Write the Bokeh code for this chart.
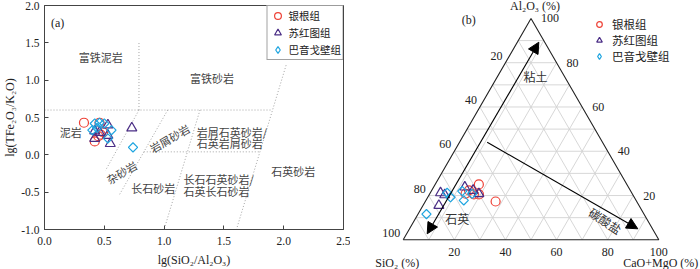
import math
from bokeh.plotting import figure
from bokeh.models import (Range1d, FixedTicker, NumeralTickFormatter, Label,
                          Arrow, NormalHead)
from bokeh.layouts import row, column
from bokeh.embed import file_html
from bokeh.resources import INLINE
from bokeh.core.properties import value

# ------------------------------------------------------------------ data
group_names = ["银根组", "苏红图组", "巴音戈壁组"]

# panel (a): lg(SiO2/Al2O3) vs lg(TFe2O3/K2O)
yingen_lsa = [0.33, 0.46, 0.42, 0.47, 0.49, 0.45]
yingen_lfk = [0.43, 0.43, 0.18, 0.27, 0.30, 0.25]
suhong_lsa = [0.42, 0.53, 0.53, 0.55, 0.73, 0.42, 0.46]
suhong_lfk = [0.32, 0.40, 0.26, 0.15, 0.36, 0.22, 0.30]
bayin_lsa = [0.40, 0.42, 0.46, 0.50, 0.56, 0.53, 0.74, 0.44]
bayin_lfk = [0.33, 0.42, 0.43, 0.42, 0.33, 0.22, 0.10, 0.36]

# classification boundaries of panel (a)
bound_x0 = [0.00, 0.79, 0.79, 1.03, 1.30, 2.02, 0.83]
bound_y0 = [0.60, 0.60, 0.60, 0.60, 0.60, 1.20, 0.04]
bound_x1 = [1.90, 0.79, 0.51, 0.628, 1.00, 1.605, 1.80]
bound_y1 = [0.60, 1.50, -0.21, -0.53, -1.00, -1.00, 0.04]

x_ticks = [0.0, 0.5, 1.0, 1.5, 2.0, 2.5]
y_ticks = [-1.0, -0.5, 0.0, 0.5, 1.0, 1.5, 2.0]

field_names = ["富铁泥岩", "富铁砂岩", "泥岩", "岩屑砂岩", "杂砂岩", "长石砂岩", "石英砂岩"]
field_names_2line = ["岩屑石英砂岩/", "石英岩屑砂岩", "长石石英砂岩/", "石英长石砂岩"]

# panel (b): ternary SiO2 - Al2O3 - (CaO+MgO), in %
yingen_sio2 = [57.9, 55.2, 63.1, 65.2, 62.1, 60.1]
yingen_al2o3 = [25.0, 17.3, 22.3, 20.8, 20.5, 20.5]
yingen_camg = [17.1, 27.5, 14.6, 14.0, 17.4, 19.4]
suhong_sio2 = [74.8, 73.6, 78.3, 64.0, 61.5, 60.0]
suhong_al2o3 = [21.2, 20.3, 15.5, 23.8, 22.3, 20.8]
suhong_camg = [4.0, 6.1, 6.2, 12.2, 16.2, 19.2]
bayin_sio2 = [85.1, 72.2, 71.9, 65.9, 67.4, 62.6]
bayin_al2o3 = [11.6, 21.2, 19.2, 22.0, 17.8, 20.8]
bayin_camg = [3.3, 6.6, 8.9, 12.1, 14.8, 16.6]

tern_tick_values = [20, 40, 60, 80, 100]
tern_grid_values = [10, 20, 30, 40, 50, 60, 70, 80, 90]

# ------------------------------------------------------------------ styles
RED = "#ee4136"
PURPLE = "#4b2e86"
CYAN = "#1ea5e0"
CJK = "Noto Sans CJK SC"
SERIF = "Liberation Serif"
AXC = "#444444"
circle_style = dict(marker="circle", size=9, line_color=RED, fill_color=None, line_width=1.2)
tri_style = dict(marker="triangle", size=10, line_color=PURPLE, fill_color=None, line_width=1.2)
dia_style = dict(marker="square", angle=45, angle_units="deg", size=6.5, line_color=CYAN,
                 fill_color=None, line_width=1.2)
# legend-only twin of the diamond series (zero size on the plot, legend draws its own size)
dia_legend_style = dict(marker="diamond", size=0, line_color=CYAN, fill_color=None,
                        line_width=1.2)

# ================================================================== panel (a)
pa = figure(width=350, height=269, x_range=Range1d(0, 2.5), y_range=Range1d(-1, 2),
            output_backend="svg", toolbar_location=None, title=None,
            min_border_left=42, min_border_right=7, min_border_top=5, min_border_bottom=40)
pa.grid.visible = False
pa.outline_line_color = AXC
pa.outline_line_width = 1
for ax in (pa.xaxis[0], pa.yaxis[0]):
    ax.major_tick_in = 4
    ax.major_tick_out = 0
    ax.minor_tick_in = 0
    ax.minor_tick_out = 0
    ax.axis_line_color = AXC
    ax.major_tick_line_color = AXC
    ax.major_label_text_font = SERIF
    ax.major_label_text_font_size = "11.5px"
    ax.major_label_text_color = "#222222"
    ax.axis_label_text_font = SERIF
    ax.axis_label_text_font_size = "12px"
    ax.axis_label_text_font_style = "normal"
    ax.axis_label_text_color = "#222222"
    ax.formatter = NumeralTickFormatter(format="0.0")
pa.xaxis.ticker = FixedTicker(ticks=x_ticks)
pa.yaxis.ticker = FixedTicker(ticks=y_ticks)
pa.xaxis.axis_label = "lg(SiO₂/Al₂O₃)"
pa.yaxis.axis_label = "lg(TFe₂O₃/K₂O)"
pa.xaxis.major_label_standoff = 7
pa.xaxis.axis_label_standoff = 5
pa.yaxis.major_label_standoff = 5
pa.yaxis.axis_label_standoff = 1

pa.segment(x0=bound_x0, y0=bound_y0, x1=bound_x1, y1=bound_y1,
           line_color="#9a9a9a", line_width=0.9, line_dash="1 2")

field_pos = [(0.47, 1.31, 0), (1.40, 1.03, 0), (0.22, 0.30, 0), (1.045, 0.222, 30),
             (0.644, -0.232, 30), (0.91, -0.45, 0), (2.08, -0.22, 0)]
for name, (fx, fy, ang) in zip(field_names, field_pos):
    pa.add_layout(Label(x=fx, y=fy, text=name, text_align="center", text_baseline="middle",
                        angle=ang, angle_units="deg", text_font=CJK,
                        text_font_size="11px", text_color="#444444"))
two_pos = [(1.273, 0.31), (1.273, 0.155), (1.163, -0.32), (1.163, -0.48)]
for name, (fx, fy) in zip(field_names_2line, two_pos):
    pa.add_layout(Label(x=fx, y=fy, text=name, text_align="left", text_baseline="middle",
                        text_font=CJK, text_font_size="11px", text_color="#444444"))
pa.add_layout(Label(x=0.11, y=1.76, text="(a)", text_align="center", text_baseline="middle",
                    text_font=SERIF, text_font_size="12px", text_color="#222222"))

pa.scatter(yingen_lsa, yingen_lfk, legend_label=group_names[0], **circle_style)
pa.scatter(suhong_lsa, suhong_lfk, legend_label=group_names[1], **tri_style)
pa.scatter(bayin_lsa, bayin_lfk, legend_label=group_names[2], **dia_legend_style)
pa.scatter(bayin_lsa, bayin_lfk, **dia_style)

lg = pa.legend[0]
lg.location = "top_right"
lg.margin = 0
lg.padding = 1
lg.spacing = 0
lg.border_line_color = AXC
lg.border_line_width = 1
lg.label_text_font = CJK
lg.label_text_font_size = "10.5px"
lg.label_text_color = "#222222"
lg.glyph_width = 18
lg.glyph_height = 17
lg.label_height = 17
lg.label_standoff = 2

# ================================================================== panel (b)
H = math.sqrt(3) / 2


def tern(s, a, c):
    xs, ys = [], []
    for si, ai, ci in zip(s, a, c):
        t = si + ai + ci
        xs.append((ci + 0.5 * ai) / t)
        ys.append(H * ai / t)
    return xs, ys


pb = figure(width=350, height=269, x_range=Range1d(-0.2062, 1.1631),
            y_range=Range1d(-0.1162, 0.9362), x_axis_location=None, y_axis_location=None,
            min_border=0, min_border_left=0, min_border_right=0, min_border_top=0,
            min_border_bottom=0, title=None, output_backend="svg", toolbar_location=None)
pb.outline_line_color = None
pb.grid.visible = False

gx, gy = [], []
for v in tern_grid_values:
    w = 100 - v
    for (s0, a0, c0), (s1, a1, c1) in [((w, v, 0), (0, v, w)),
                                       ((w, 0, v), (0, w, v)),
                                       ((v, 0, w), (v, w, 0))]:
        lx, ly = tern([s0, s1], [a0, a1], [c0, c1])
        gx.append(lx)
        gy.append(ly)
pb.multi_line(gx, gy, line_color="#d2d2d2", line_width=0.9)

ox, oy = tern([100, 0, 0, 100], [0, 0, 100, 0], [0, 100, 0, 0])
pb.line(ox, oy, line_color="#222222", line_width=1.1)

zeros = [0] * len(tern_tick_values)
rest = [100 - v for v in tern_tick_values]
tick_txt = [str(v) for v in tern_tick_values]
tick_font = dict(text_font=value(SERIF), text_font_size="12px", text_color="#222222")
lx, ly = tern(tern_tick_values, rest, zeros)
pb.text(lx, ly, text=tick_txt, text_align="right", text_baseline="middle",
        x_offset=-3, y_offset=-7, **tick_font)
rx, ry = tern(zeros, tern_tick_values, rest)
pb.text(rx, ry, text=tick_txt, text_align="left", text_baseline="middle",
        x_offset=10, y_offset=0, **tick_font)
bx, by = tern(rest, zeros, tern_tick_values)
pb.text(bx, by, text=tick_txt, text_align="center", text_baseline="middle",
        x_offset=0, y_offset=12, **tick_font)

title_font = dict(text_font=value(SERIF), text_font_size="12px", text_color="#222222")
pb.text([0.5], [H], text=["Al₂O₃ (%)"], text_align="center", text_baseline="middle",
        x_offset=4, y_offset=-12, **title_font)
pb.text([0.0], [0.0], text=["SiO₂ (%)"], text_align="center", text_baseline="middle",
        x_offset=-6, y_offset=23, **title_font)
pb.text([1.0], [0.0], text=["CaO+MgO (%)"], text_align="center", text_baseline="middle",
        x_offset=2, y_offset=23, **title_font)
pb.add_layout(Label(x=0.2567, y=0.858, text="(b)", text_align="center", text_baseline="middle",
                    text_font=SERIF, text_font_size="12px", text_color="#222222"))

head = dict(size=11, fill_color="black", line_color="black")
pb.add_layout(Arrow(x_start=0.0939, y_start=0.0235, x_end=0.5305, y_end=0.773,
                    start=NormalHead(**head), end=NormalHead(**head),
                    line_color="black", line_width=1.1))
pb.add_layout(Arrow(x_start=0.3286, y_start=0.3818, x_end=0.9178, y_end=0.043,
                    end=NormalHead(**head), line_color="black", line_width=1.1))

cjk_font = dict(text_font=CJK, text_font_size="12px", text_color="#333333")
pb.add_layout(Label(x=0.5176, y=0.6388, text="粘土", text_align="center",
                    text_baseline="middle", **cjk_font))
pb.add_layout(Label(x=0.2113, y=0.0821, text="石英", text_align="center",
                    text_baseline="middle", **cjk_font))
pb.add_layout(Label(x=0.7915, y=0.0755, text="碳酸盐", text_align="center",
                    text_baseline="middle", angle=-33, angle_units="deg", **cjk_font))

yx, yy = tern(yingen_sio2, yingen_al2o3, yingen_camg)
sx, sy = tern(suhong_sio2, suhong_al2o3, suhong_camg)
bx2, by2 = tern(bayin_sio2, bayin_al2o3, bayin_camg)
pb.scatter(yx, yy, legend_label=group_names[0], **circle_style)
pb.scatter(sx, sy, legend_label=group_names[1], **tri_style)
pb.scatter(bx2, by2, legend_label=group_names[2], **dia_legend_style)
pb.scatter(bx2, by2, **dia_style)

lb = pb.legend[0]
lb.location = (242, 205)
lb.margin = 0
lb.padding = 0
lb.spacing = 0
lb.border_line_color = None
lb.background_fill_alpha = 0
lb.label_text_font = CJK
lb.label_text_font_size = "11.5px"
lb.label_text_color = "#222222"
lb.glyph_width = 14
lb.glyph_height = 16
lb.label_height = 16
lb.label_standoff = 6

layout = row(pa, column(pb), spacing=0)
open("out.html", "w").write(file_html(layout, INLINE))
